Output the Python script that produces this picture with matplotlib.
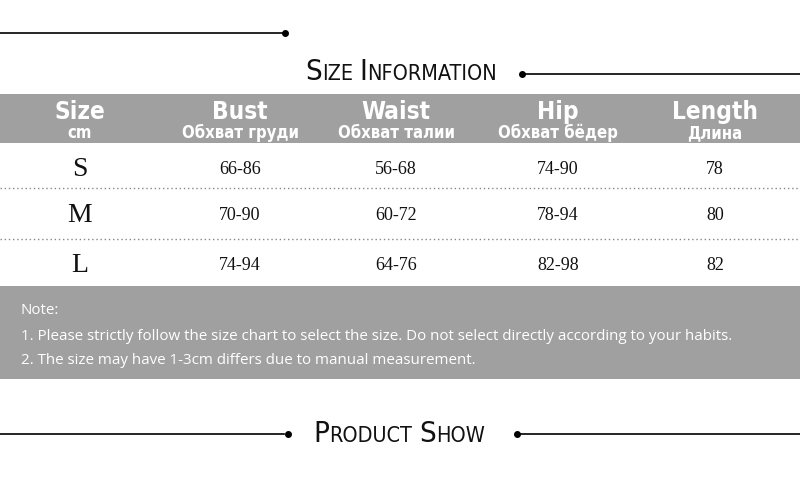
import matplotlib
matplotlib.use("Agg")
import matplotlib.pyplot as plt
from matplotlib.offsetbox import TextArea, HPacker, AnnotationBbox

# 表格数据
sizes = ['S', 'M', 'L']
bust = ['66-86', '70-90', '74-94']
waist = ['56-68', '60-72', '64-76']
hip = ['74-90', '78-94', '82-98']
length = ['78', '80', '82']

headers = ['Size', 'Bust', 'Waist', 'Hip', 'Length']
sub_headers = ['cm', 'Обхват груди', 'Обхват талии', 'Обхват бёдер', 'Длина']
notes = ['Note:',
         '1. Please strictly follow the size chart to select the size. Do not select directly according to your habits.',
         '2. The size may have 1-3cm differs due to manual measurement.']

GRAY = '#a0a0a0'
col_x = [80, 240, 396, 558, 715]
row_y = [169, 215, 266]

fig = plt.figure(figsize=(8, 4.8), dpi=100)
ax = fig.add_axes([0, 0, 1, 1])
ax.set_xlim(0, 800)
ax.set_ylim(480, 0)
ax.axis('off')


def small_caps(text, x, y, big=21, small=15.5):
    """小型大写字母标题"""
    parts = []
    for word_i, word in enumerate(text.split(' ')):
        if word_i > 0:
            parts.append(TextArea(' ', textprops=dict(fontsize=small, family='DejaVu Sans')))
        parts.append(TextArea(word[0], textprops=dict(fontsize=big, family='DejaVu Sans',
                                                      stretch='condensed', color='#111111')))
        parts.append(TextArea(word[1:].upper(), textprops=dict(fontsize=small, family='DejaVu Sans',
                                                               stretch='condensed', color='#111111')))
    box = HPacker(children=parts, align='baseline', pad=0, sep=0)
    ab = AnnotationBbox(box, (x, y), xycoords='data', frameon=False, box_alignment=(0.5, 0.5))
    ax.add_artist(ab)


# 顶部装饰线
ax.plot([0, 284], [33, 33], color='black', lw=1.2)
ax.plot([285], [33], 'o', color='black', ms=4)

small_caps('Size Information', 401, 72)
ax.plot([522], [74], 'o', color='black', ms=4)
ax.plot([524, 800], [74, 74], color='black', lw=1.2)

# 表头
ax.add_patch(plt.Rectangle((0, 94), 800, 49, color=GRAY, lw=0))
for x, h, s in zip(col_x, headers, sub_headers):
    ax.text(x, 112, h, ha='center', va='center', color='white', fontsize=17.5, fontweight='bold',
            family='DejaVu Sans', stretch='condensed')
    ax.text(x, 133, s, ha='center', va='center', color='white', fontsize=12, fontweight='bold',
            family='DejaVu Sans', stretch='condensed')

# 表格内容
for i, y in enumerate(row_y):
    ax.text(col_x[0], y, sizes[i], ha='center', va='center', fontsize=20,
            family='Liberation Serif', color='#111111')
    for x, col in zip(col_x[1:], [bust, waist, hip, length]):
        ax.text(x, y, col[i], ha='center', va='center', fontsize=13,
                family='Liberation Serif', color='#111111')

for y in [188, 239]:
    ax.plot([0, 800], [y, y], color='#888888', lw=1, ls=(0, (1, 2)))

# 备注区域
ax.add_patch(plt.Rectangle((0, 286), 800, 93, color=GRAY, lw=0))
for y, t in zip([310, 336, 360], notes):
    ax.text(21, y, t, ha='left', va='center', color='white', fontsize=10.9,
            family='Open Sans')

# 底部标题
ax.plot([0, 284], [434, 434], color='black', lw=1.2)
ax.plot([288], [434], 'o', color='black', ms=4)
small_caps('Product Show', 399, 434)
ax.plot([517], [434], 'o', color='black', ms=4)
ax.plot([520, 800], [434, 434], color='black', lw=1.2)

fig.savefig('out.png', dpi=100)
plt.close(fig)
